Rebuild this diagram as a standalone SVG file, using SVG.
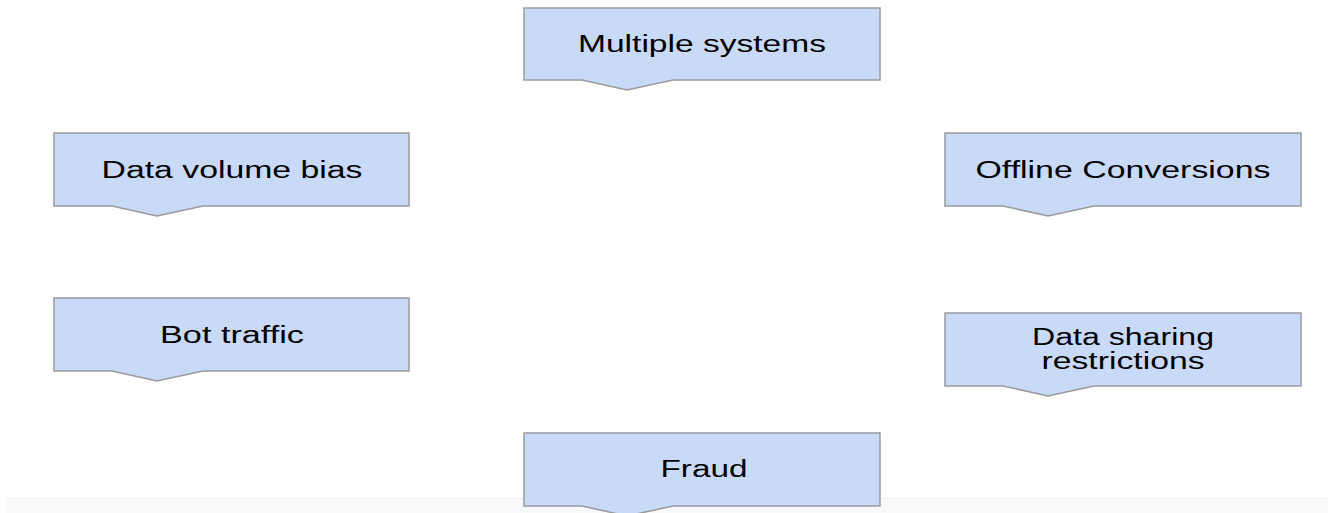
<svg xmlns="http://www.w3.org/2000/svg" width="1328" height="513" viewBox="0 0 1328 513">
<style>
.box{fill:#c9daf8;stroke:#9a9a9a;stroke-width:1.5}
.lbl{font-family:"Liberation Sans",Arial,sans-serif;font-size:23px;fill:#000;text-anchor:middle}
</style>
<rect x="0" y="0" width="1328" height="513" fill="#ffffff"/>
<rect x="7" y="498" width="1321" height="15" fill="#f8f9fa"/>
<line x1="7" y1="498.5" x2="1328" y2="498.5" stroke="#eeeeee" stroke-width="1"/>
<g id="connectors"></g>
<g id="multiple-systems">
<path class="box" d="M524,8 H880 V80 H673 L627,90 L582,80 H524 Z"/>
<text class="lbl" x="702" y="52" textLength="248" lengthAdjust="spacingAndGlyphs">Multiple systems</text>
</g>
<g id="data-volume-bias">
<path class="box" d="M54,133 H409 V206 H203 L157,216 L112,206 H54 Z"/>
<text class="lbl" x="232" y="178" textLength="261" lengthAdjust="spacingAndGlyphs">Data volume bias</text>
</g>
<g id="offline-conversions">
<path class="box" d="M945,133 H1301 V206 H1094 L1048,216 L1003,206 H945 Z"/>
<text class="lbl" x="1123" y="178" textLength="295" lengthAdjust="spacingAndGlyphs">Offline Conversions</text>
</g>
<g id="bot-traffic">
<path class="box" d="M54,298 H409 V371 H203 L157,381 L112,371 H54 Z"/>
<text class="lbl" x="232" y="343" textLength="144" lengthAdjust="spacingAndGlyphs">Bot traffic</text>
</g>
<g id="data-sharing-restrictions">
<path class="box" d="M945,313 H1301 V386 H1094 L1048,396 L1003,386 H945 Z"/>
<text class="lbl" x="1123" y="345" textLength="182" lengthAdjust="spacingAndGlyphs">Data sharing</text>
<text class="lbl" x="1123" y="369" textLength="163" lengthAdjust="spacingAndGlyphs">restrictions</text>
</g>
<g id="fraud">
<path class="box" d="M524,433 H880 V506 H673 L627,516 L582,506 H524 Z"/>
<text class="lbl" x="704" y="477" textLength="87" lengthAdjust="spacingAndGlyphs">Fraud</text>
</g>
</svg>
